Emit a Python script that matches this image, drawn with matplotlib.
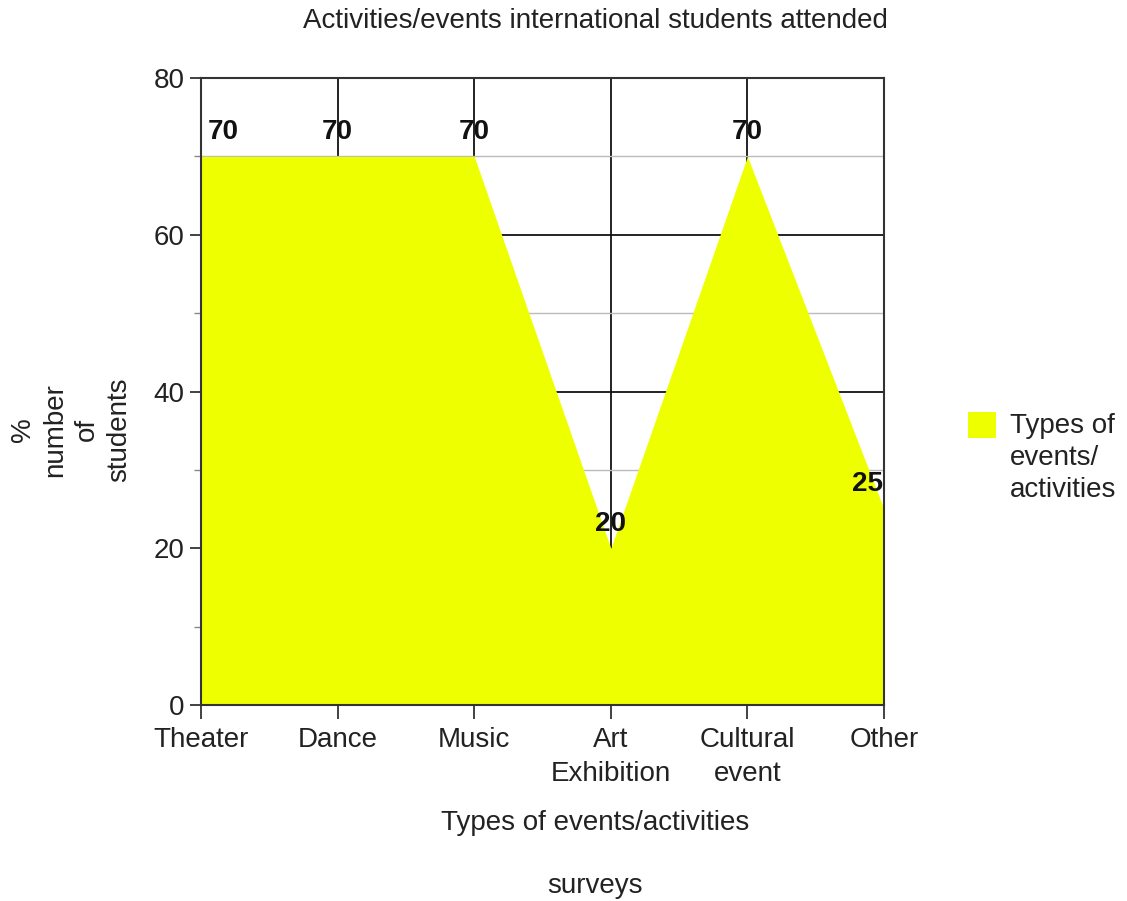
import matplotlib.pyplot as plt
from matplotlib.patches import Rectangle
from matplotlib.ticker import MultipleLocator

plt.rcParams['font.family'] = ['Liberation Sans', 'DejaVu Sans']

# data
categories = ['Theater', 'Dance', 'Music', 'Art\nExhibition', 'Cultural\nevent', 'Other']
values = [70, 70, 70, 20, 70, 25]
series_name = 'Types of\nevents/\nactivities'

fill_color = '#eeff00'
edge = '#333333'
fs = 20

fig = plt.figure(figsize=(11.27, 9.01), dpi=100)
ax = fig.add_axes([0.1784, 0.2175, 0.6060, 0.6959])

x = list(range(len(categories)))
ax.fill_between(x, values, 0, color=fill_color, linewidth=0, zorder=2)

ax.set_xlim(0, len(categories) - 1)
ax.set_ylim(0, 80)
ax.set_xticks(x)
ax.set_xticklabels(categories, fontsize=fs, color='#222222', linespacing=1.4)
ax.yaxis.set_major_locator(MultipleLocator(20))
ax.yaxis.set_minor_locator(MultipleLocator(10))
ax.tick_params(axis='y', which='major', length=8, width=1.3, color=edge,
               labelsize=fs, labelcolor='#222222', pad=4)
ax.tick_params(axis='y', which='minor', length=5, width=1.0, color='#888888')
ax.tick_params(axis='x', which='major', length=10, width=1.3, color=edge,
               labelsize=fs, pad=6)

ax.set_axisbelow(True)
ax.grid(True, which='major', color='#111111', linewidth=1.3, zorder=0)
ax.grid(True, which='minor', axis='y', color='#bbbbbb', linewidth=1.0, zorder=0)
for s in ax.spines.values():
    s.set_color(edge)
    s.set_linewidth(1.5)
    s.set_zorder(3)

# value labels
for i, v in enumerate(values):
    if i == 0:
        ha, dx = 'left', 0.05
    elif i == len(values) - 1:
        ha, dx = 'right', -0.01
    else:
        ha, dx = 'center', 0.0
    ax.text(i + dx, v + 1.5, str(v), ha=ha, va='bottom', fontsize=fs,
            fontweight='bold', color='#111111', zorder=4)

fig.text(0.528, 0.977, 'Activities/events international students attended',
         ha='center', va='center', fontsize=fs, color='#222222')
fig.text(0.528, 0.087, 'Types of events/activities', ha='center', va='center',
         fontsize=fs, color='#222222')
fig.text(0.528, 0.017, 'surveys', ha='center', va='center', fontsize=fs,
         color='#222222')
fig.text(0.063, 0.523, '%\nnumber\nof\nstudents', rotation=90, ha='center',
         va='center', fontsize=fs, color='#222222', linespacing=1.3,
         multialignment='center')

# legend
fig.patches.append(Rectangle((968 / 1127, 1 - 438 / 901), 28 / 1127, 26 / 901,
                             transform=fig.transFigure, facecolor=fill_color,
                             edgecolor='none'))
fig.text(1010 / 1127, 1 - 413 / 901, series_name, ha='left', va='top',
         fontsize=fs, color='#222222', linespacing=1.3)

fig.savefig('out.png', dpi=100)
